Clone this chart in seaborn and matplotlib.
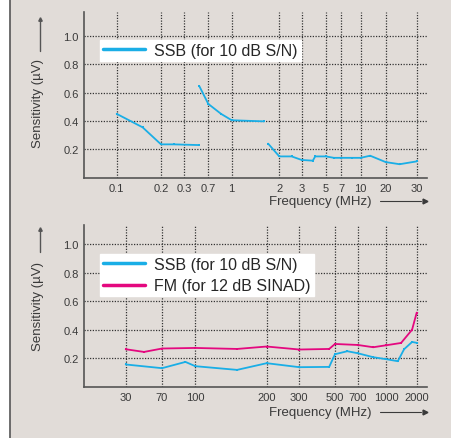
import numpy as np
import pandas as pd
import seaborn as sns
import matplotlib.pyplot as plt
from matplotlib.lines import Line2D

# ---- data ----
# top panel: SSB sensitivity, 0.1 - 30 MHz, three bands
hf_seg = [1, 1, 1, 1, 1,
          2, 2, 2, 2, 2,
          3, 3, 3, 3, 3, 3, 3, 3, 3, 3, 3, 3, 3, 3, 3]
hf_freq = [0.1, 0.15, 0.2, 0.25, 0.5,
           0.51, 0.7, 0.85, 1.0, 1.6,
           1.7, 2.0, 2.5, 3.0, 3.8, 4.0, 5.0, 6.0, 7.0, 8.5, 10.0, 13.0, 20.0, 24.0, 30.0]
hf_ssb = [0.45, 0.355, 0.235, 0.235, 0.23,
          0.645, 0.52, 0.45, 0.405, 0.397,
          0.24, 0.15, 0.15, 0.125, 0.12, 0.15, 0.15, 0.14, 0.14, 0.14, 0.14, 0.155, 0.11, 0.095, 0.115]
hf_ticks = [0.1, 0.2, 0.3, 0.7, 1, 2, 3, 5, 7, 10, 20, 30]
hf_labels = ["0.1", "0.2", "0.3", "0.7", "1", "2", "3", "5", "7", "10", "20", "30"]

# bottom panel: 30 - 2000 MHz
vu_freq_ssb = [30, 70, 90, 100, 150, 200, 300, 460, 500, 600, 700, 850, 1000, 1300, 1500, 1800, 2000]
vu_ssb = [0.156, 0.13, 0.174, 0.144, 0.118, 0.165, 0.137, 0.139, 0.228, 0.249, 0.235,
          0.207, 0.193, 0.179, 0.263, 0.314, 0.308]
vu_freq_fm = [30, 46, 70, 100, 150, 200, 300, 460, 500, 700, 850, 1000, 1400, 1800, 2000]
vu_fm = [0.263, 0.244, 0.268, 0.272, 0.265, 0.282, 0.261, 0.265, 0.30, 0.293, 0.277,
         0.291, 0.307, 0.40, 0.52]
vu_ticks = [30, 70, 100, 200, 300, 500, 700, 1000, 2000]
vu_labels = ["30", "70", "100", "200", "300", "500", "700", "1000", "2000"]

y_ticks = [0.2, 0.4, 0.6, 0.8, 1.0]
y_labels = ["0.2", "0.4", "0.6", "0.8", "1.0"]

# ---- axis scale: the frequency axis is hand-spaced, so map tick -> position ----
hf_pos = [116.7, 161, 184.3, 208.3, 231.7, 279.3, 301.7, 325.7, 341, 360.7, 385.7, 416.7]
vu_pos = [125.7, 162, 195.3, 266.7, 299.3, 335, 357.7, 386.3, 416.7]


def _interp_ext(x, xp, fp):
    x = np.asarray(x, dtype=float)
    xp = np.asarray(xp, dtype=float)
    fp = np.asarray(fp, dtype=float)
    out = np.interp(x, xp, fp)
    lo = x < xp[0]
    hi = x > xp[-1]
    out = np.where(lo, fp[0] + (x - xp[0]) * (fp[1] - fp[0]) / (xp[1] - xp[0]), out)
    out = np.where(hi, fp[-1] + (x - xp[-1]) * (fp[-1] - fp[-2]) / (xp[-1] - xp[-2]), out)
    return out


def make_scale(ticks, pos):
    lt = np.log10(ticks)

    def fwd(f):
        f = np.clip(np.asarray(f, dtype=float), 1e-6, None)
        return _interp_ext(np.log10(f), lt, pos)

    def inv(p):
        return 10 ** _interp_ext(p, pos, lt)

    return fwd, inv


BG = "#e1dcd8"
BLUE = "#1aaee6"
PINK = "#e4087f"
GRID = "#333333"
TXT = "#3a3a3a"

sns.set_theme(style="white", rc={"axes.facecolor": BG, "figure.facecolor": BG})
plt.rcParams["font.family"] = ["Liberation Sans", "DejaVu Sans"]

W, H = 452, 439
fig = plt.figure(figsize=(W / 100, H / 100), dpi=100)


def px_axes(left, top, right, bottom):
    return fig.add_axes([left / W, 1 - bottom / H, (right - left) / W, (bottom - top) / H])


ax1 = px_axes(84.3, 12.7, 426.7, 178.7)
ax2 = px_axes(84.3, 226, 426.7, 387.7)

df_hf = pd.DataFrame({"seg": hf_seg, "freq": hf_freq, "ssb": hf_ssb})
df_ssb = pd.DataFrame({"freq": vu_freq_ssb, "val": vu_ssb})
df_fm = pd.DataFrame({"freq": vu_freq_fm, "val": vu_fm})

for ax, ticks, labels, pos, ytop in [(ax1, hf_ticks, hf_labels, hf_pos, 1.17),
                                      (ax2, vu_ticks, vu_labels, vu_pos, 1.135)]:
    fwd, inv = make_scale(ticks, pos)
    ax.set_xscale("function", functions=(fwd, inv))
    ax.set_xlim(inv(84.3), inv(426.7))
    ax.set_ylim(0, ytop)
    ax.set_xticks(ticks)
    ax.set_xticklabels(labels)
    ax.set_yticks(y_ticks)
    ax.set_yticklabels(y_labels)
    ax.minorticks_off()
    ax.grid(True, color=GRID, linestyle=(0, (1, 1.2)), linewidth=0.9)
    ax.tick_params(length=0, labelsize=8, colors=TXT, pad=4)
    for s in ["top", "right"]:
        ax.spines[s].set_visible(False)
    for s in ["left", "bottom"]:
        ax.spines[s].set_color("#555555")
        ax.spines[s].set_linewidth(1.2)

sns.lineplot(data=df_hf, x="freq", y="ssb", units="seg", estimator=None, ax=ax1,
             color=BLUE, linewidth=1.3, marker="s", markersize=2, markeredgewidth=0)
sns.lineplot(data=df_ssb, x="freq", y="val", ax=ax2, color=BLUE, linewidth=1.3,
             marker="s", markersize=2, markeredgewidth=0)
sns.lineplot(data=df_fm, x="freq", y="val", ax=ax2, color=PINK, linewidth=1.3,
             marker="s", markersize=2, markeredgewidth=0)
for ax in (ax1, ax2):
    ax.set_xlabel("")
    ax.set_ylabel("")

leg_kw = dict(loc="upper left", frameon=True, fancybox=False, framealpha=1,
              facecolor="white", edgecolor="white", fontsize=11.5, borderpad=0.2,
              handlelength=2.6, handletextpad=0.6, borderaxespad=0, labelspacing=0.4)
h_ssb = Line2D([], [], color=BLUE, linewidth=2.5)
h_fm = Line2D([], [], color=PINK, linewidth=2.5)
ax1.legend([h_ssb], ["SSB (for 10 dB S/N)"], bbox_to_anchor=(0.046, 0.831), **leg_kw)
ax2.legend([h_ssb, h_fm], ["SSB (for 10 dB S/N)", "FM (for 12 dB SINAD)"],
           bbox_to_anchor=(0.046, 0.8225), **leg_kw)

# axis titles with arrows, as in the original
for yc in (103.4, 306.7):
    fig.text(38 / W, 1 - yc / H, "Sensitivity (µV)", rotation=90, ha="center", va="center",
             fontsize=9.5, color=TXT)
for y0, y1 in [(51.7, 21), (253, 231)]:
    fig.add_artist(plt.Line2D([40 / W] * 2, [1 - y0 / H, 1 - y1 / H], color="#555555", linewidth=1.0))
    fig.add_artist(plt.Line2D([40 / W], [1 - (y1 - 1) / H], marker="^", markersize=2.5,
                              color="#555555", linestyle="none"))
for yc in (202, 413.3):
    fig.text(320 / W, 1 - yc / H, "Frequency (MHz)", ha="center", va="center",
             fontsize=9.5, color=TXT)
    fig.add_artist(plt.Line2D([380 / W, 421 / W], [1 - yc / H] * 2, color=TXT, linewidth=0.8))
    fig.add_artist(plt.Line2D([425 / W], [1 - yc / H], marker=">", markersize=3.5,
                              color=TXT, linestyle="none"))

# white strip and border on the left edge
fig.add_artist(plt.Rectangle((0, 0), 9 / W, 1, color="white", transform=fig.transFigure, zorder=-1))
fig.add_artist(plt.Line2D([9.5 / W] * 2, [0, 1], color="#555555", linewidth=1.2))

fig.savefig("out.png", dpi=100, facecolor=BG)
